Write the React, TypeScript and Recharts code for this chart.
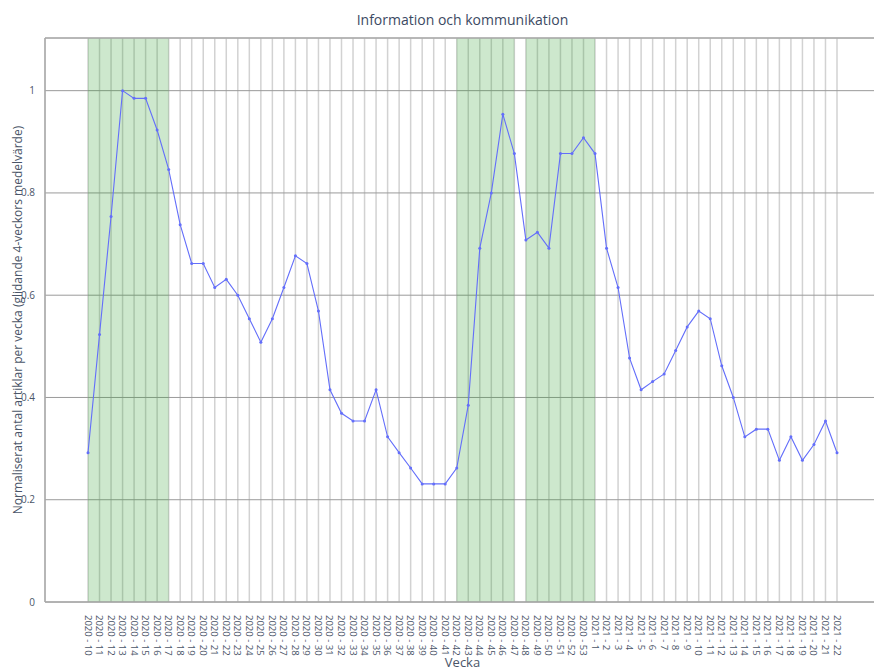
import React from 'react'
import {
  LineChart, Line, XAxis, YAxis, CartesianGrid, ReferenceArea, ReferenceLine,
} from 'recharts'

// veckor 2020-10 .. 2020-53, 2021-1 .. 2021-22
const weeks2020 = [
  10, 11, 12, 13, 14, 15, 16, 17, 18, 19, 20, 21, 22, 23, 24, 25, 26, 27, 28, 29, 30, 31,
  32, 33, 34, 35, 36, 37, 38, 39, 40, 41, 42, 43, 44, 45, 46, 47, 48, 49, 50, 51, 52, 53,
]
const weeks2021 = [1, 2, 3, 4, 5, 6, 7, 8, 9, 10, 11, 12, 13, 14, 15, 16, 17, 18, 19, 20, 21, 22]

const values = [
  0.292, 0.523, 0.754, 1.0, 0.985, 0.985, 0.923, 0.846, 0.738, 0.662, 0.662,
  0.615, 0.631, 0.6, 0.554, 0.508, 0.554, 0.615, 0.677, 0.662, 0.569, 0.415,
  0.369, 0.354, 0.354, 0.415, 0.323, 0.292, 0.262, 0.231, 0.231, 0.231, 0.262,
  0.385, 0.692, 0.8, 0.954, 0.877, 0.708, 0.723, 0.692, 0.877, 0.877, 0.908,
  0.877, 0.692, 0.615, 0.477, 0.415, 0.431, 0.446, 0.492, 0.538, 0.569, 0.554,
  0.462, 0.4, 0.323, 0.338, 0.338, 0.277, 0.323, 0.277, 0.308, 0.354, 0.292,
]

// skuggade perioder
const bands = [
  ['2020 - 10', '2020 - 17'],
  ['2020 - 42', '2020 - 47'],
  ['2020 - 48', '2021 - 1'],
]

const yTicks = [0, 0.2, 0.4, 0.6, 0.8, 1]
const yMax = 1.103

const labels = [
  ...weeks2020.map(w => `2020 - ${w}`),
  ...weeks2021.map(w => `2021 - ${w}`),
]
const data = labels.map((week, i) => ({ week, value: values[i] }))

const font = 'Open Sans'
const textColor = '#4a5568'

const WeekTick = ({ x, y, payload }: any) => (
  <g transform={`translate(${x},${y})`}>
    <text
      transform="rotate(90)"
      x={5}
      y={0}
      dominantBaseline="central"
      textAnchor="start"
      fontSize={9.5}
      fontFamily={font}
      fill={textColor}
    >
      {payload.value}
    </text>
  </g>
)

const YLabel = ({ viewBox }: any) => {
  const cx = 17
  const cy = viewBox.y + viewBox.height / 2
  return (
    <text
      x={cx}
      y={cy}
      transform={`rotate(-90 ${cx} ${cy})`}
      textAnchor="middle"
      dominantBaseline="central"
      fontSize={12}
      fontFamily={font}
      fill={textColor}
    >
      Normaliserat antal artiklar per vecka (glidande 4-veckors medelvärde)
    </text>
  )
}

const XLabel = ({ viewBox }: any) => (
  <text
    x={viewBox.x + viewBox.width / 2}
    y={662}
    textAnchor="middle"
    dominantBaseline="central"
    fontSize={13}
    fontFamily={font}
    fill={textColor}
  >
    Vecka
  </text>
)

export default function App() {
  return (
    <div style={{ position: 'absolute', left: 0, top: 0, width: 874, height: 671, overflow: 'hidden', background: '#fff' }}>
      <div style={{
        position: 'absolute', left: 45, top: 10, width: 835, textAlign: 'center',
        fontFamily: font, fontSize: 14, color: '#3c4a63',
      }}>
        Information och kommunikation
      </div>
      <LineChart width={890} height={671} data={data} margin={{ top: 38, right: 10, bottom: 0, left: 0 }}>
        <CartesianGrid horizontal={false} stroke="#d2d2d2" strokeWidth={1.5} />
        <CartesianGrid vertical={false} stroke="#9a9a9a" strokeWidth={1} />
        {bands.map(([a, b]) => (
          <ReferenceArea key={a} x1={a} x2={b} fill="#2ca02c" fillOpacity={0.24} stroke="none" ifOverflow="visible" />
        ))}
        <ReferenceLine y={yMax} stroke="#b0b0b0" strokeWidth={1.5} />
        <XAxis
          dataKey="week"
          interval={0}
          padding={{ left: 43, right: 43 }}
          tick={<WeekTick />}
          tickLine={false}
          axisLine={{ stroke: '#aaa', strokeWidth: 1.5 }}
          height={69}
          label={{ content: <XLabel /> }}
        />
        <YAxis
          domain={[0, yMax]}
          ticks={yTicks}
          width={45}
          tickLine={false}
          axisLine={{ stroke: '#aaa', strokeWidth: 1.5 }}
          tick={{ fontSize: 10, fill: textColor, fontFamily: font }}
          tickMargin={4}
          label={{ content: <YLabel /> }}
        />
        <Line
          type="linear"
          dataKey="value"
          stroke="#636efa"
          strokeWidth={1.1}
          dot={{ r: 1.5, fill: '#636efa', stroke: 'none' }}
          isAnimationActive={false}
        />
      </LineChart>
    </div>
  )
}
